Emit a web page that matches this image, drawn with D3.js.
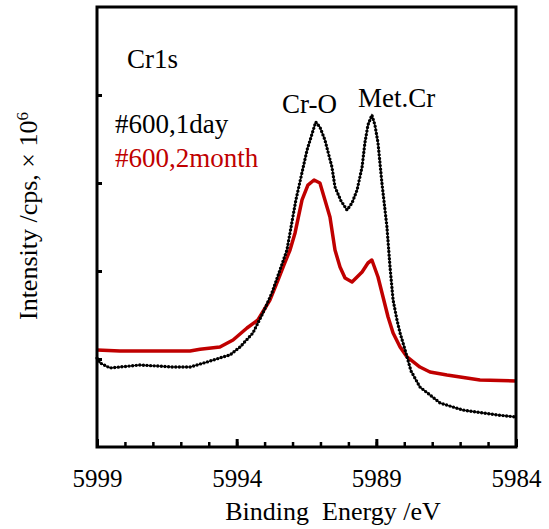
<!DOCTYPE html>
<html>
<head>
<meta charset="utf-8">
<script src="https://cdn.jsdelivr.net/npm/d3@7"></script>
<style>
  html, body { margin: 0; padding: 0; background: #fff; }
  svg { display: block; }
  svg text { font-family: "Liberation Serif", "Times New Roman", Times, "DejaVu Serif", serif !important; }
</style>
</head>
<body>
<svg id="chart" width="549" height="529"></svg>
<script>
// ---- data (binding energy in eV, intensity in 1e6 cps) ----
const energy1day = [5999.00, 5998.89, 5998.53, 5997.46, 5996.28, 5995.67, 5995.06, 5994.49, 5994.24, 5993.88,
  5993.42, 5993.06, 5992.74, 5992.45, 5992.20, 5991.88, 5991.48, 5991.17, 5991.02, 5990.84,
  5990.59, 5990.48, 5990.27, 5990.05, 5989.87, 5989.69, 5989.51, 5989.41, 5989.30, 5989.16,
  5989.05, 5988.94, 5988.80, 5988.62, 5988.51, 5988.40, 5988.26, 5988.15, 5987.97, 5987.76,
  5987.44, 5987.08, 5986.72, 5985.90, 5984.68, 5984.00];
const intensity1day = [1.01, 0.955, 0.898, 0.932, 0.909, 0.909, 0.966, 1.023, 1.045, 1.136,
  1.295, 1.523, 1.750, 2.011, 2.239, 2.807, 3.375, 3.693, 3.636, 3.489,
  3.182, 2.955, 2.800, 2.693, 2.773, 2.920, 3.182, 3.455, 3.659, 3.773,
  3.659, 3.455, 3.000, 2.500, 2.045, 1.670, 1.443, 1.295, 1.102, 0.864,
  0.682, 0.591, 0.500, 0.420, 0.364, 0.341];

const energy2month = [5999.00, 5998.18, 5997.46, 5996.57, 5995.67, 5995.31, 5994.60, 5994.13, 5993.63, 5993.24,
  5992.81, 5992.52, 5992.31, 5992.09, 5991.91, 5991.66, 5991.45, 5991.23, 5991.02, 5990.84,
  5990.66, 5990.48, 5990.30, 5990.12, 5989.87, 5989.51, 5989.30, 5989.16, 5988.94, 5988.76,
  5988.58, 5988.40, 5988.15, 5987.90, 5987.44, 5987.08, 5986.47, 5985.29, 5984.00];
const intensity2month = [1.102, 1.091, 1.091, 1.091, 1.091, 1.110, 1.136, 1.216, 1.352, 1.443,
  1.670, 1.898, 2.068, 2.239, 2.432, 2.807, 2.977, 3.034, 3.000, 2.807,
  2.614, 2.239, 2.045, 1.920, 1.875, 1.989, 2.091, 2.125, 1.932, 1.705,
  1.477, 1.295, 1.136, 1.023, 0.909, 0.852, 0.818, 0.761, 0.750];

const xTickLabels = [5999, 5994, 5989, 5984];
const xMinorTicks = d3.range(5999, 5983, -1);
const yTicks = [0, 1, 2, 3, 4, 5];
const seriesNames = ["#600,1day", "#600,2month"];
const annotations = ["Cr1s", "Cr-O", "Met.Cr"];

// ---- layout ----
const svg = d3.select("#chart");
const mLeft = 97, mRight = 516, mTop = 7, mBottom = 447;

const x = d3.scaleLinear().domain([5999, 5984]).range([mLeft, mRight]);
const y = d3.scaleLinear().domain([0, 5]).range([mBottom, mTop]);

const line = d3.line().x(d => x(d[0])).y(d => y(d[1]));

const data1 = energy1day.map((e, i) => [e, intensity1day[i]]);
const data2 = energy2month.map((e, i) => [e, intensity2month[i]]);

// red series (solid)
svg.append("path").datum(data2)
  .attr("d", line)
  .attr("fill", "none")
  .attr("stroke", "#c00000")
  .attr("stroke-width", 3.5)
  .attr("stroke-linejoin", "round");

// black series (dotted markers)
svg.append("path").datum(data1)
  .attr("d", line)
  .attr("fill", "none")
  .attr("stroke", "#000")
  .attr("stroke-width", 1.2);
svg.append("path").datum(data1)
  .attr("d", line)
  .attr("fill", "none")
  .attr("stroke", "#000")
  .attr("stroke-width", 3.4)
  .attr("stroke-linecap", "round")
  .attr("stroke-dasharray", "0,3.6");

// frame
svg.append("rect")
  .attr("x", mLeft).attr("y", mTop)
  .attr("width", mRight - mLeft).attr("height", mBottom - mTop)
  .attr("fill", "none").attr("stroke", "#000").attr("stroke-width", 3);

// x axis (ticks inward)
const xAxisMinor = d3.axisBottom(x).tickValues(xMinorTicks).tickSize(-5).tickFormat("");
const gxm = svg.append("g").attr("transform", `translate(0,${mBottom})`).call(xAxisMinor);
gxm.select(".domain").remove();
gxm.selectAll("line").attr("stroke-width", 2.5);

const xAxisMajor = d3.axisBottom(x).tickValues(xTickLabels).tickSize(-8).tickFormat(d3.format("d"));
const gx = svg.append("g").attr("transform", `translate(0,${mBottom})`).call(xAxisMajor);
gx.attr("font-family", null);
gx.select(".domain").remove();
gx.selectAll("line").attr("stroke-width", 3);
gx.selectAll("text")
  .attr("font-size", 25).attr("fill", "#000").attr("dy", 0).attr("y", 40);

// y axis (ticks inward, no labels)
const yAxis = d3.axisLeft(y).tickValues(yTicks.slice(1, 5)).tickSize(-5).tickFormat("");
const gy = svg.append("g").attr("transform", `translate(${mLeft},0)`).call(yAxis);
gy.select(".domain").remove();
gy.selectAll("line").attr("stroke-width", 3);

// axis titles
svg.append("text")
  .attr("x", 333).attr("y", 520)
  .attr("text-anchor", "middle")
  .attr("font-size", 26)
  .attr("xml:space", "preserve")
  .text("Binding  Energy /eV");

const yl = svg.append("text")
  .attr("transform", "translate(37,216) rotate(-90)")
  .attr("text-anchor", "middle")
  .attr("font-size", 26);
yl.append("tspan").text("Intensity /cps, \u00d7 10");
yl.append("tspan").attr("baseline-shift", "super").attr("font-size", 17).text("6");

// annotations
svg.append("text").attr("x", 127).attr("y", 68).attr("font-size", 27).text(annotations[0]);
svg.append("text").attr("x", 115).attr("y", 133).attr("font-size", 27).attr("fill", "#000").text(seriesNames[0]);
svg.append("text").attr("x", 115).attr("y", 167).attr("font-size", 27).attr("fill", "#c00000").text(seriesNames[1]);
svg.append("text").attr("x", 282).attr("y", 113).attr("font-size", 27).text(annotations[1]);
svg.append("text").attr("x", 358).attr("y", 107).attr("font-size", 27).text(annotations[2]);
</script>
</body>
</html>
